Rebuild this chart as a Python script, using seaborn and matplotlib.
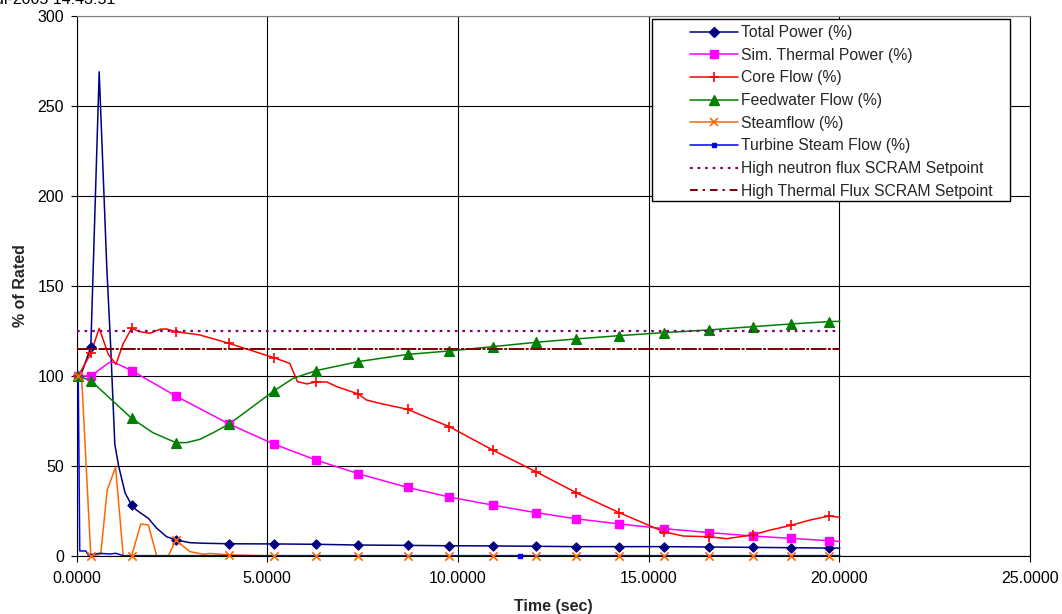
import numpy as np
import pandas as pd
import matplotlib
matplotlib.use("Agg")
import matplotlib.pyplot as plt
import seaborn as sns
from matplotlib.lines import Line2D
from matplotlib.patches import Rectangle

sns.set_theme(style="white")
plt.rcParams['font.family'] = ['Liberation Sans', 'DejaVu Sans']

# ---------------- data ----------------
marker_t = [0.04, 0.37, 1.44, 2.60, 4.00, 5.17, 6.28, 7.39, 8.68, 9.77, 10.91,
            12.04, 13.10, 14.23, 15.40, 16.60, 17.73, 18.73, 19.73]

tp_t = [0.04, 0.10, 0.37, 0.59, 0.79, 0.89, 1.00, 1.10, 1.27, 1.44, 1.57, 1.88,
        2.10, 2.36, 2.60, 2.97, 3.30, 4.00, 5.17, 6.28, 7.39, 8.68, 9.77, 10.91,
        12.04, 13.10, 14.23, 15.40, 16.60, 17.73, 18.73, 19.73, 20.02]
tp_v = [100, 100, 116, 269, 160, 117, 62, 50, 35, 28.3, 25.5, 20.9,
        15.4, 10.7, 9.0, 7.4, 7.1, 6.8, 6.7, 6.5, 6.1, 5.9, 5.7, 5.6,
        5.4, 5.2, 5.2, 5.2, 5.0, 4.8, 4.6, 4.4, 4.4]

st_t = [0.04, 0.37, 0.86, 1.00, 1.44, 2.60, 4.00, 5.17, 6.28, 7.39, 8.68, 9.77,
        10.91, 12.04, 13.10, 14.23, 15.40, 16.60, 17.73, 18.73, 19.73, 20.02]
st_v = [100, 100, 107.6, 107.4, 103, 88.9, 73.3, 62.2, 53.3, 45.7, 38.1, 32.8,
        28.3, 24.1, 20.7, 17.8, 15.2, 13.0, 11.1, 9.8, 8.5, 8.1]

cf_t = [0.04, 0.37, 0.59, 0.83, 1.03, 1.22, 1.44, 1.66, 1.92, 2.19, 2.36, 2.60,
        3.23, 4.00, 5.17, 5.59, 5.79, 6.04, 6.28, 6.56, 6.82, 7.39, 7.60, 7.95,
        8.68, 9.18, 9.77, 10.91, 12.04, 13.10, 14.23, 15.40, 15.91, 16.60, 17.04,
        17.73, 18.19, 18.73, 19.24, 19.73, 20.02]
cf_v = [100, 112.6, 126.5, 112, 106.5, 118, 126.5, 124.6, 123.7, 126, 126.1, 124.6,
        122.8, 118.1, 110.2, 107, 96.9, 95.6, 96.7, 96.7, 94.1, 90, 86.7, 84.8,
        81.5, 77, 71.9, 58.9, 46.9, 35.2, 24.1, 13.5, 11.1, 10.7, 9.6,
        11.7, 14.4, 17, 20, 22.2, 21.5]

fw_t = [0.04, 0.37, 1.44, 2.00, 2.60, 2.88, 3.23, 3.58, 4.00, 5.17, 5.68, 6.28,
        7.39, 8.68, 9.77, 10.91, 12.04, 13.10, 14.23, 15.40, 16.60, 17.73, 18.73,
        19.73, 20.02]
fw_v = [100, 97.4, 76.5, 68.5, 63, 63, 64.8, 68.5, 73.3, 91.7, 98.7, 103,
        108, 112, 113.9, 116.3, 118.7, 120.6, 122.4, 124.1, 125.6, 127.4, 128.9,
        130.2, 130.4]

sf_t = [0.04, 0.13, 0.37, 0.63, 0.80, 1.02, 1.22, 1.44, 1.68, 1.88, 2.10, 2.40,
        2.60, 2.97, 3.32, 3.50, 4.00, 5.17, 6.28, 7.39, 8.68, 9.77, 10.91, 12.04,
        13.10, 14.23, 15.40, 16.60, 17.73, 18.73, 19.73, 20.02]
sf_v = [100, 99, 0, 1.0, 36.7, 49.3, 0, 0, 17.8, 17.2, 0, 0,
        8.7, 2.4, 1.0, 1.4, 0.6, 0, 0, 0, 0, 0, 0, 0,
        0, 0, 0, 0, 0, 0, 0, 0]

ts_t = [0.04, 0.08, 0.24, 0.30, 0.60, 0.86, 1.03, 1.22, 11.63, 20.02]
ts_v = [100, 2.8, 2.8, 0.6, 1.5, 1.1, 1.5, 0.2, 0.2, 0.2]
ts_marker_t = [11.63]

sp_t = [0.0, 20.02]
neutron_sp = [125, 125]
thermal_sp = [115, 115]

labels = ["Total Power (%)", "Sim. Thermal Power (%)", "Core Flow (%)",
          "Feedwater Flow (%)", "Steamflow (%)", "Turbine Steam Flow (%)",
          "High neutron flux SCRAM Setpoint", "High Thermal Flux SCRAM Setpoint"]
x_ticks = [0, 5, 10, 15, 20, 25]
y_ticks = [0, 50, 100, 150, 200, 250, 300]

# ---------------- figure ----------------
W, H = 1062, 614
FS = 11.5
LFS = 11.3
fig = plt.figure(figsize=(W / 100, H / 100), dpi=100)
fig.patch.set_facecolor("white")
x0, x1, y0, y1 = 76.7, 1029.7, 556, 16
ax = fig.add_axes([x0 / W, 1 - y0 / H, (x1 - x0) / W, (y0 - y1) / H])
ax.set_facecolor("white")

styles = [
    dict(color="#000080", marker="D", ms=4.6, mew=1.0),
    dict(color="#FF00FF", marker="s", ms=6.3, mew=1.0),
    dict(color="#FF0000", marker="+", ms=7.5, mew=1.2),
    dict(color="#008000", marker="^", ms=7.0, mew=1.0),
    dict(color="#FF6600", marker="x", ms=6.0, mew=1.2),
    dict(color="#0000FF", marker="s", ms=2.2, mew=1.0),
]

series = [(tp_t, tp_v, marker_t), (st_t, st_v, marker_t), (cf_t, cf_v, marker_t),
          (fw_t, fw_v, marker_t), (sf_t, sf_v, marker_t), (ts_t, ts_v, ts_marker_t)]

handles = []
for (t, v, mt), stl, lab in zip(series, styles, labels):
    df = pd.DataFrame({"t": t, "v": v})
    sns.lineplot(data=df, x="t", y="v", ax=ax, color=stl["color"], lw=1.1,
                 estimator=None, sort=False, legend=False, zorder=3)
    mdf = df[df["t"].round(3).isin(np.round(mt, 3))]
    sns.scatterplot(data=mdf, x="t", y="v", ax=ax, color=stl["color"],
                    marker=stl["marker"], s=stl["ms"] ** 2,
                    edgecolor=stl["color"], linewidth=stl["mew"],
                    legend=False, zorder=4, clip_on=False)
    handles.append(Line2D([], [], color=stl["color"], lw=1.1, marker=stl["marker"],
                          ms=stl["ms"], mec=stl["color"], mfc=stl["color"],
                          mew=stl["mew"]))

spdf1 = pd.DataFrame({"t": sp_t, "v": neutron_sp})
spdf2 = pd.DataFrame({"t": sp_t, "v": thermal_sp})
sns.lineplot(data=spdf1, x="t", y="v", ax=ax, color="#800080", lw=1.6,
             linestyle=(0, (1.2, 2.2)), estimator=None, legend=False, zorder=5)
sns.lineplot(data=spdf2, x="t", y="v", ax=ax, color="#800000", lw=1.4,
             linestyle=(0, (8, 0.8, 1.5, 0.8)), estimator=None, legend=False, zorder=5)
handles.append(Line2D([], [], color="#800080", lw=1.6, linestyle=(0, (1.2, 2.2))))
handles.append(Line2D([], [], color="#800000", lw=1.4, linestyle=(0, (4, 2.5, 1.2, 2.5))))

ax.set_xlim(0, 25)
ax.set_ylim(0, 300)
ax.set_xticks(x_ticks)
ax.set_yticks(y_ticks)
ax.set_xticklabels([f"{x:.4f}" for x in x_ticks])
ax.set_yticklabels([str(y) for y in y_ticks])
ax.grid(True, color="black", lw=0.8)
ax.set_axisbelow(True)
for sp in ax.spines.values():
    sp.set_color("black")
    sp.set_linewidth(0.8)
ax.spines["top"].set_color("#808080")
ax.tick_params(axis="both", direction="out", length=4, width=0.8, colors="black",
               labelsize=FS, left=True, bottom=True)
ax.tick_params(axis="x", pad=7)
ax.tick_params(axis="y", pad=5)
ax.set_xlabel("Time (sec)", fontsize=FS, fontweight="bold", labelpad=9)
ax.set_ylabel("% of Rated", fontsize=FS, fontweight="bold", labelpad=7)

# legend frame + legend
fig.patches.append(Rectangle((651.7 / W, 1 - 200.7 / H), (1010 - 651.7) / W,
                             (200.7 - 19) / H, transform=fig.transFigure,
                             facecolor="white", edgecolor="black", lw=1.0, zorder=4))
fig.legend(handles, labels, loc="upper left",
           bbox_to_anchor=(690 / W, 1 - 25 / H), bbox_transform=fig.transFigure,
           frameon=False, fontsize=LFS, borderpad=0, borderaxespad=0,
           handlelength=3.05, handletextpad=0.2, labelspacing=0.49, numpoints=1)

fig.text(115 / W, 1 - 4.5 / H, "Jul-2005 14:43:51", ha="right", va="baseline",
         fontsize=FS, color="black")

fig.savefig("out.png", dpi=100, facecolor="white")
